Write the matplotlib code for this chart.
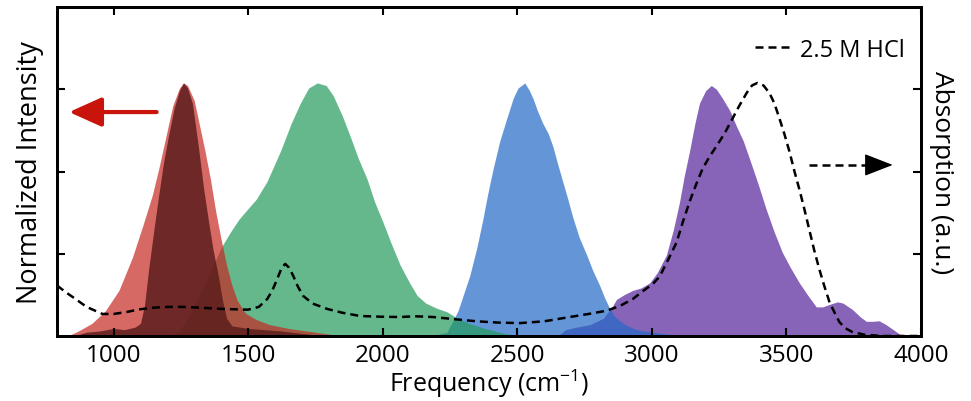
import matplotlib
matplotlib.use("Agg")
import matplotlib.pyplot as plt

plt.rcParams['font.family'] = ['Open Sans', 'DejaVu Sans']
plt.rcParams['mathtext.fontset'] = 'custom'
plt.rcParams['mathtext.rm'] = 'Open Sans'
plt.rcParams['mathtext.it'] = 'Open Sans:italic'
plt.rcParams['mathtext.bf'] = 'Open Sans:bold'

# -----------------------------
# spectra (frequency in cm^-1, normalized intensity)
# -----------------------------
red_x = [830, 870, 920, 970, 1020, 1070, 1110, 1145, 1170, 1195, 1220, 1245, 1260, 1275,
         1300, 1320, 1340, 1360, 1380, 1400, 1420, 1440, 1460, 1490, 1530, 1580, 1650, 1750, 1850]
red_y = [0.0, 0.02, 0.05, 0.10, 0.18, 0.31, 0.44, 0.56, 0.67, 0.79, 0.91, 0.98, 1.0, 0.99,
         0.93, 0.83, 0.73, 0.62, 0.49, 0.38, 0.28, 0.20, 0.14, 0.09, 0.065, 0.045, 0.03, 0.015, 0.0]

dark_x = [850, 900, 950, 1000, 1040, 1080, 1100, 1115, 1130, 1150, 1167, 1185, 1204, 1225, 1245,
          1260, 1275, 1293, 1315, 1335, 1352, 1370, 1389, 1405, 1420, 1440, 1500, 1560, 1620, 1700, 1800]
dark_y = [0.0, 0.015, 0.02, 0.03, 0.025, 0.035, 0.05, 0.12, 0.26, 0.42, 0.55, 0.68, 0.79, 0.90, 0.97,
          1.0, 0.98, 0.92, 0.75, 0.58, 0.46, 0.34, 0.24, 0.14, 0.07, 0.04, 0.03, 0.025, 0.02, 0.01, 0.0]

green_x = [1200, 1240, 1275, 1311, 1340, 1371, 1400, 1434, 1465, 1497, 1530, 1570, 1620, 1660, 1694,
           1725, 1757, 1790, 1816, 1850, 1879, 1910, 1942, 1970, 2001, 2030, 2065, 2100, 2128, 2160,
           2200, 2240, 2270, 2320, 2380, 2450, 2520]
green_y = [0.0, 0.015, 0.07, 0.146, 0.21, 0.28, 0.35, 0.41, 0.46, 0.50, 0.54, 0.61, 0.73, 0.84, 0.92,
           0.98, 1.0, 0.99, 0.95, 0.87, 0.79, 0.70, 0.62, 0.53, 0.45, 0.37, 0.28, 0.21, 0.16, 0.13,
           0.11, 0.095, 0.075, 0.05, 0.03, 0.01, 0.0]

blue_x = [2180, 2239, 2280, 2324, 2350, 2372, 2390, 2410, 2435, 2461, 2485, 2503, 2528, 2545, 2558,
          2575, 2595, 2615, 2632, 2650, 2669, 2688, 2706, 2730, 2758, 2780, 2806, 2825, 2843, 2860,
          2881, 2910, 2944, 3000, 3080, 3150]
blue_y = [0.0, 0.015, 0.10, 0.24, 0.35, 0.46, 0.56, 0.66, 0.77, 0.86, 0.94, 0.98, 1.0, 0.97, 0.94,
          0.89, 0.84, 0.80, 0.75, 0.68, 0.61, 0.54, 0.47, 0.39, 0.32, 0.26, 0.20, 0.15, 0.11, 0.08,
          0.06, 0.04, 0.025, 0.015, 0.005, 0.0]

purple_x = [2650, 2680, 2720, 2770, 2820, 2855, 2869, 2900, 2929, 2960, 2992, 3020, 3054, 3080, 3103,
            3120, 3140, 3160, 3177, 3200, 3221, 3240, 3262, 3290, 3314, 3340, 3363, 3395, 3425, 3455,
            3485, 3515, 3548, 3580, 3611, 3635, 3660, 3690, 3710, 3745, 3775, 3797, 3820, 3845, 3870,
            3893, 3930]
purple_y = [0.0, 0.025, 0.035, 0.045, 0.07, 0.12, 0.145, 0.165, 0.18, 0.19, 0.21, 0.25, 0.32, 0.42, 0.53,
            0.63, 0.73, 0.84, 0.92, 0.97, 0.99, 0.975, 0.94, 0.89, 0.83, 0.77, 0.70, 0.60, 0.50, 0.41,
            0.33, 0.27, 0.21, 0.16, 0.115, 0.115, 0.125, 0.135, 0.13, 0.105, 0.075, 0.058, 0.058, 0.06, 0.045,
            0.028, 0.0]

# absorption of 2.5 M HCl (right axis)
hcl_x = [790, 820, 859, 900, 959, 1000, 1050, 1093, 1150, 1200, 1256, 1320, 1404, 1500, 1540, 1571,
         1590, 1608, 1625, 1638, 1652, 1668, 1685, 1705, 1740, 1794, 1850, 1916, 2000, 2065, 2120,
         2187, 2261, 2350, 2430, 2510, 2600, 2695, 2770, 2832, 2880, 2929, 2970, 3003, 3029, 3060,
         3092, 3115, 3140, 3165, 3188, 3215, 3240, 3270, 3300, 3325, 3352, 3372, 3392, 3415, 3437,
         3455, 3474, 3492, 3511, 3530, 3548, 3567, 3585, 3603, 3622, 3640, 3660, 3680, 3697, 3720,
         3745, 3790, 3857, 4000]
hcl_y = [0.20, 0.175, 0.146, 0.115, 0.087, 0.087, 0.095, 0.105, 0.112, 0.115, 0.115, 0.112, 0.107, 0.104,
         0.115, 0.146, 0.18, 0.225, 0.27, 0.285, 0.27, 0.237, 0.195, 0.158, 0.128, 0.107, 0.092, 0.079,
         0.076, 0.075, 0.078, 0.075, 0.067, 0.058, 0.053, 0.051, 0.058, 0.075, 0.088, 0.10, 0.118, 0.146,
         0.18, 0.205, 0.235, 0.30, 0.37, 0.45, 0.53, 0.60, 0.66, 0.71, 0.75, 0.80, 0.86, 0.91, 0.96,
         0.99, 1.0, 0.99, 0.96, 0.92, 0.86, 0.80, 0.73, 0.65, 0.58, 0.50, 0.42, 0.34, 0.265, 0.20,
         0.134, 0.09, 0.055, 0.03, 0.016, 0.005, 0.0, 0.0]

xticks = [1000, 1500, 2000, 2500, 3000, 3500, 4000]
yticks = [0.325, 0.65, 0.975]

# -----------------------------
# figure
# -----------------------------
fig = plt.figure(figsize=(9.71, 4.02), dpi=100)
ax = fig.add_axes([0.0587, 0.1617, 0.8898, 0.8183])

ax.fill_between(purple_x, purple_y, color="#54229b", alpha=0.7, lw=0)
ax.fill_between(blue_x, blue_y, color="#2269c6", alpha=0.7, lw=0)
ax.fill_between(green_x, green_y, color="#229b5b", alpha=0.7, lw=0)
ax.fill_between(red_x, red_y, color="#c62922", alpha=0.7, lw=0)
ax.fill_between(dark_x, dark_y, color="#5c1d1d", alpha=0.85, lw=0)

ax.set_xlim(790, 4000)
ax.set_ylim(0, 1.3)
ax.set_xticks(xticks)
ax.set_yticks(yticks)
ax.set_yticklabels([])
ax.tick_params(direction="in", length=6, width=1.5, labelsize=17.5, top=True, right=False, pad=5)
for sp in ax.spines.values():
    sp.set_linewidth(2)
ax.set_xlabel("Frequency (cm$^{-1}$)", fontsize=18, labelpad=0)
ax.set_ylabel("Normalized Intensity", fontsize=19.5, labelpad=4)

# intensity arrow -> left axis
ax.annotate("", xy=(835, 0.885), xytext=(1160, 0.885),
            arrowprops=dict(arrowstyle="-|>,head_length=1.0,head_width=0.45",
                            color="#c8140a", lw=3, mutation_scale=20, shrinkA=0, shrinkB=0))

ax2 = ax.twinx()
ax2.plot(hcl_x, hcl_y, color="black", lw=1.8, dashes=(3.2, 2), label="2.5 M HCl")
ax2.set_ylim(0, 1.3)
ax2.set_yticks(yticks)
ax2.set_yticklabels([])
ax2.tick_params(direction="in", length=6, width=1.5)
for sp in ax2.spines.values():
    sp.set_linewidth(2)
ax2.set_ylabel("Absorption (a.u.)", fontsize=19, rotation=270, labelpad=20)

# absorption arrow -> right axis
ax2.plot([3585, 3850], [0.676, 0.676], color="black", lw=1.8, dashes=(3.2, 2))
ax2.annotate("", xy=(3895, 0.676), xytext=(3840, 0.676),
             arrowprops=dict(arrowstyle="-|>,head_length=0.9,head_width=0.35",
                             color="black", lw=1.0, mutation_scale=20, shrinkA=0, shrinkB=0))

leg = ax2.legend(loc="upper right", bbox_to_anchor=(1.017, 1.0), frameon=False, fontsize=17,
                 handlelength=1.5, handletextpad=0.4, borderaxespad=0.9)

fig.savefig("out.png", dpi=100)
